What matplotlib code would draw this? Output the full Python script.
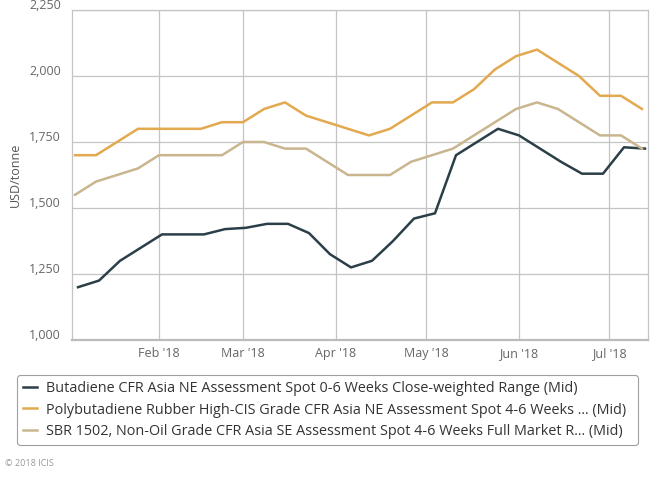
import matplotlib
matplotlib.use('Agg')
import matplotlib.pyplot as plt
import matplotlib.transforms as mtransforms
import pandas as pd

plt.rcParams['font.family'] = ['Open Sans', 'DejaVu Sans']

# weekly assessments (butadiene on Fridays, the others on Thursdays)
dates_bd = pd.date_range('2018-01-05', periods=28, freq='7D')
dates_rub = pd.date_range('2018-01-04', periods=28, freq='7D')

butadiene = [1200, 1225, 1300, 1350, 1400, 1400, 1400, 1420, 1425, 1440,
             1440, 1405, 1325, 1275, 1300, 1375, 1460, 1480, 1700, 1750,
             1800, 1775, 1725, 1675, 1630, 1630, 1730, 1725]
polybutadiene = [1700, 1700, 1750, 1800, 1800, 1800, 1800, 1825, 1825, 1875,
                 1900, 1850, 1825, 1800, 1775, 1800, 1850, 1900, 1900, 1950,
                 2025, 2075, 2100, 2050, 2000, 1925, 1925, 1875]
sbr = [1550, 1600, 1625, 1650, 1700, 1700, 1700, 1700, 1750, 1750,
       1725, 1725, 1675, 1625, 1625, 1625, 1675, 1700, 1725, 1775,
       1825, 1875, 1900, 1875, 1825, 1775, 1775, 1725]

names = ['Butadiene CFR Asia NE Assessment Spot 0-6 Weeks Close-weighted Range (Mid)',
         'Polybutadiene Rubber High-CIS Grade CFR Asia NE Assessment Spot 4-6 Weeks ... (Mid)',
         'SBR 1502, Non-Oil Grade CFR Asia SE Assessment Spot 4-6 Weeks Full Market R... (Mid)']
colors = ['#2b3f48', '#e2a94e', '#c9b68f']

y_ticks = [1000, 1250, 1500, 1750, 2000, 2250]
x_ticks = pd.to_datetime(['2018-02-01', '2018-03-01', '2018-04-01',
                          '2018-05-01', '2018-06-01', '2018-07-01'])
x_labels = ["Feb '18", "Mar '18", "Apr '18", "May '18", "Jun '18", "Jul '18"]

fig = plt.figure(figsize=(6.68, 4.78), dpi=100)
ax = fig.add_axes([72/668, 138/478, 576/668, 330/478])

l1, = ax.plot(dates_bd, butadiene, color=colors[0], lw=1.8)
l2, = ax.plot(dates_rub, polybutadiene, color=colors[1], lw=1.8)
l3, = ax.plot(dates_rub, sbr, color=colors[2], lw=1.8)

ax.set_xlim(pd.Timestamp('2018-01-03'), pd.Timestamp('2018-07-14'))
ax.set_ylim(1000, 2250)
ax.set_yticks(y_ticks)
ax.set_yticklabels(['{:,}'.format(v) for v in y_ticks])
ax.set_xticks(x_ticks)
ax.set_xticklabels(x_labels)
ax.grid(True, color='#c4c4c4', lw=0.9)
ax.set_axisbelow(True)
ax.tick_params(length=0, labelsize=9, labelcolor='#666666')
ax.tick_params(axis='y', pad=8)
ax.tick_params(axis='x', pad=5)
for lab in ax.get_yticklabels():
    lab.set_transform(lab.get_transform() + mtransforms.ScaledTranslation(0, 4/72, fig.dpi_scale_trans))
for s in ['top', 'right', 'left']:
    ax.spines[s].set_color('#c4c4c4')
    ax.spines[s].set_linewidth(0.9)
ax.spines['bottom'].set_color('#bbbbbb')
ax.spines['bottom'].set_linewidth(1.6)

fig.text(15/668, 1 - 175/478, 'USD/tonne', rotation=90, ha='center', va='center',
         fontsize=9, color='#555555')

leg = fig.legend([l1, l2, l3], names, loc='upper left',
                 bbox_to_anchor=(10/668, 1 - 444/478, 635/668, 76/478), mode='expand',
                 fontsize=10.4, handlelength=1.0, handletextpad=0.6,
                 labelspacing=0.45, borderpad=0.4, frameon=True, fancybox=True)
leg.get_frame().set_edgecolor('#888888')
leg.get_frame().set_linewidth(0.8)
for t in leg.get_texts():
    t.set_color('#333333')

fig.text(5/668, 1 - 463/478, '\u00a9 2018 ICIS', fontsize=6.5, color='#999999',
         ha='left', va='center')

fig.savefig('out.png', dpi=100)
